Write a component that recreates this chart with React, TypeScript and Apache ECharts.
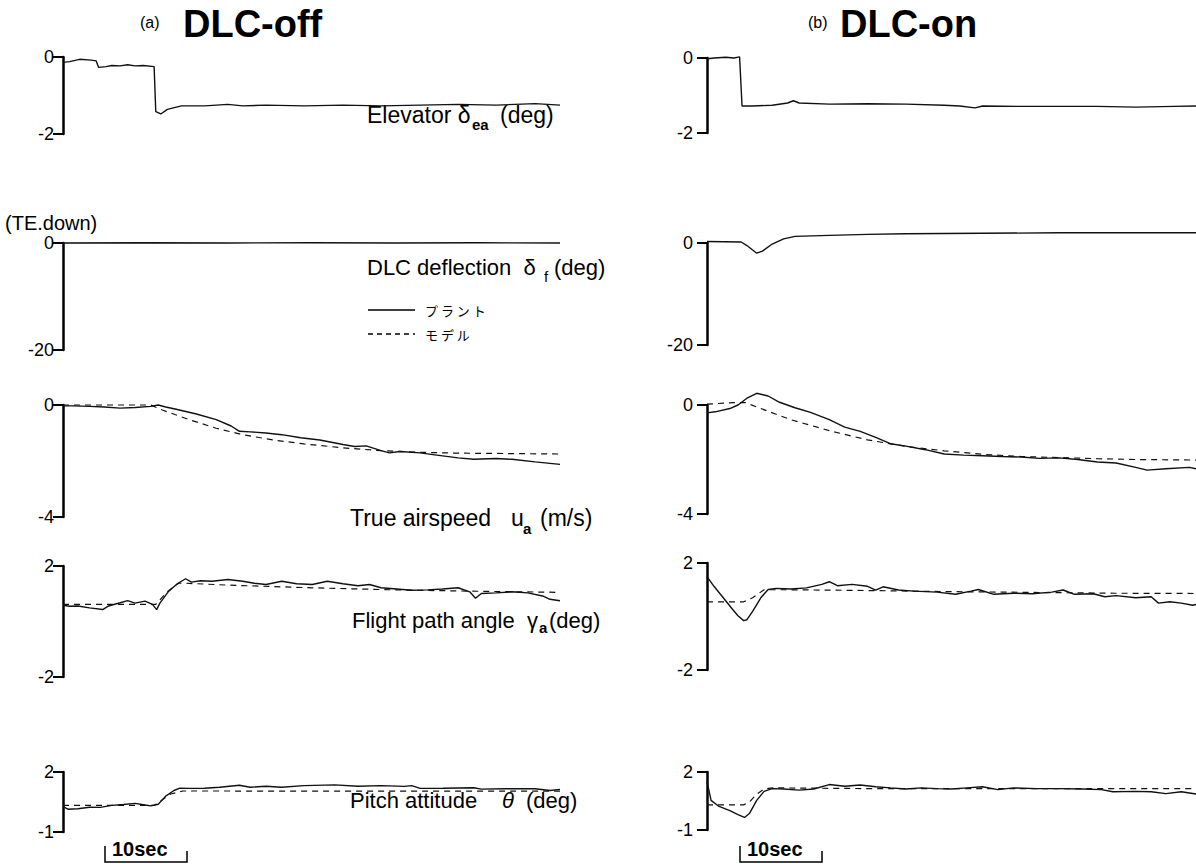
import React, { useEffect, useRef } from 'react';
import * as echarts from 'echarts';

// ---------- data: [time (s), value] ----------
const elevOffPlant = [[0,-0.14],[0.8,-0.12],[2.0,-0.06],[3.4,-0.08],[4.0,-0.1],[4.3,-0.27],[5.2,-0.25],[5.9,-0.22],[6.9,-0.23],[7.8,-0.2],[8.7,-0.23],[9.7,-0.22],[11.0,-0.25],[11.2,-1.42],[11.8,-1.48],[12.6,-1.36],[14.3,-1.27],[17.1,-1.27],[19.9,-1.23],[21.7,-1.27],[24.5,-1.25],[29.1,-1.27],[33.8,-1.25],[38.4,-1.27],[43.1,-1.25],[47.7,-1.23],[52.3,-1.25],[57.0,-1.21],[60,-1.25]];
const elevOnPlant = [[0,-0.02],[0.9,0],[2.3,0.02],[3.3,0],[4.0,0.03],[4.3,-1.28],[5.6,-1.28],[8.0,-1.26],[9.9,-1.2],[10.6,-1.14],[11.3,-1.2],[15,-1.23],[19.7,-1.22],[24.4,-1.23],[29.1,-1.26],[31,-1.28],[32.9,-1.33],[33.8,-1.28],[38.5,-1.29],[43.2,-1.29],[47.9,-1.29],[52.6,-1.31],[57.3,-1.29],[60,-1.28]];
const dlcOffPlant = [[0,0],[10,0.05],[20,0],[30,0.05],[40,0],[50,0.05],[60,0]];
const dlcOnPlant = [[0,0.3],[4.2,0.2],[4.9,-0.5],[6.1,-2.0],[6.8,-1.6],[8.0,-0.2],[9.4,0.8],[10.8,1.3],[15,1.5],[19.7,1.7],[24.4,1.8],[33.8,1.9],[43.2,2.0],[52.6,2.0],[60,2.0]];

const speedOffPlant = [[0,-0.03],[1.3,-0.03],[3.2,-0.05],[5.0,-0.07],[6.9,-0.11],[8.7,-0.09],[10.6,-0.05],[11.5,0],[12.4,-0.07],[13.8,-0.16],[16.1,-0.32],[18.5,-0.52],[20.3,-0.75],[21.3,-0.94],[22.6,-0.96],[24.5,-1.0],[26.4,-1.06],[28.7,-1.17],[31.0,-1.25],[33.8,-1.41],[35.2,-1.48],[36.6,-1.46],[38.4,-1.63],[39.4,-1.71],[40.7,-1.66],[43.1,-1.71],[44.9,-1.78],[47.7,-1.89],[49.6,-1.94],[52.3,-1.91],[54.2,-1.94],[57,-2.03],[60,-2.12]];
const speedOffModel = [[0,0],[10.6,0],[12,-0.18],[15.2,-0.52],[18.5,-0.83],[21.7,-1.06],[25.4,-1.25],[29.1,-1.39],[33.8,-1.53],[38.4,-1.63],[43.1,-1.69],[47.7,-1.72],[52.3,-1.73],[60,-1.75]];
const speedOnPlant = [[0,-0.29],[1,-0.25],[2.8,-0.13],[3.8,0],[4.9,0.25],[6.1,0.43],[7.5,0.33],[8.9,0.1],[10.8,-0.1],[12.7,-0.27],[15,-0.54],[16.9,-0.81],[18.8,-0.97],[20.7,-1.19],[22.5,-1.42],[24.4,-1.51],[26.8,-1.64],[29.1,-1.8],[31.5,-1.84],[33.8,-1.86],[36.2,-1.89],[38.5,-1.91],[40.8,-1.96],[43.2,-1.94],[45.5,-2.0],[47.9,-2.09],[50.2,-2.13],[52.6,-2.29],[54,-2.39],[56.3,-2.34],[59.2,-2.29],[60,-2.34]];
const speedOnModel = [[0,0.03],[3.3,0.09],[4.7,0.09],[6.6,-0.13],[10.3,-0.54],[15,-0.94],[19.7,-1.28],[24.4,-1.52],[29.1,-1.68],[33.8,-1.81],[38.5,-1.89],[43.2,-1.93],[47.9,-1.97],[52.6,-2.0],[60,-2.02]];

const gammaOffPlant = [[0,0.585],[0.8,0.55],[1.8,0.56],[3.2,0.49],[4.8,0.43],[5.5,0.56],[6.9,0.675],[7.8,0.75],[8.7,0.66],[9.9,0.735],[10.8,0.615],[11.3,0.43],[11.7,0.66],[12.7,1.07],[13.8,1.36],[14.8,1.54],[15.5,1.42],[16.6,1.47],[18,1.45],[19.9,1.515],[21.7,1.45],[23.1,1.38],[24.5,1.335],[26.4,1.45],[28.2,1.36],[30.1,1.335],[31.9,1.45],[33.8,1.36],[35.6,1.29],[37,1.335],[38.4,1.215],[40.3,1.17],[42.1,1.125],[44,1.14],[45.8,1.17],[47.7,1.215],[49.1,1.07],[49.8,0.84],[50.5,1.01],[52.3,1.03],[54.2,1.07],[56.1,1.03],[57.9,0.92],[58.8,0.8],[60,0.75]];
const gammaOffModel = [[0,0.615],[11.2,0.615],[12.5,1.05],[14,1.39],[20,1.31],[30,1.215],[40,1.14],[50,1.09],[60,1.05]];
const gammaOnPlant = [[0,1.49],[0.9,1.11],[1.9,0.74],[3.1,0.28],[3.8,0.03],[4.5,-0.155],[4.9,-0.12],[5.6,0.195],[6.6,0.7],[7.5,1.01],[8.5,1.05],[10.3,1.03],[12.2,1.07],[14.1,1.2],[15,1.3],[16,1.15],[17.8,1.2],[19.7,1.13],[20.7,0.99],[21.6,1.11],[23.5,0.99],[25.4,0.95],[28.2,0.91],[30.5,0.83],[32.4,0.95],[33.3,1.01],[35.2,0.83],[37.6,0.87],[39.9,0.85],[42.3,0.91],[43.7,0.99],[45.1,0.83],[47.4,0.85],[48.8,0.74],[50.2,0.78],[52.6,0.7],[54.5,0.74],[55.4,0.5],[56.8,0.55],[58.2,0.5],[59.6,0.42],[60,0.45]];
const gammaOnModel = [[0,0.55],[4.5,0.55],[5.6,0.7],[7,1.0],[10,1.0],[20,0.97],[30,0.93],[40,0.9],[50,0.87],[60,0.86]];

const thetaOffPlant = [[0,0.27],[0.6,0.14],[1.8,0.165],[3.2,0.24],[4.5,0.23],[5.9,0.33],[7.3,0.375],[8.7,0.43],[9.9,0.35],[10.6,0.305],[11.5,0.39],[12.4,0.795],[13.4,1.075],[14.1,1.19],[15.2,1.18],[17.1,1.19],[18.9,1.24],[21.3,1.34],[22.6,1.24],[24.5,1.29],[26.4,1.24],[29.1,1.32],[32.8,1.355],[35.6,1.29],[38.4,1.32],[41.2,1.28],[42.1,1.32],[43.1,1.18],[45.9,1.19],[49.6,1.215],[50.5,1.145],[53.3,1.16],[57,1.16],[58.8,1.075],[60,1.13]];
const thetaOffModel = [[0,0.33],[11,0.33],[13,0.9],[14.5,1.05],[60,1.04]];
const thetaOnPlant = [[0,1.5],[0.5,0.53],[1.4,0.24],[2.8,0.0],[3.8,-0.2],[4.6,-0.35],[5.2,-0.15],[6.1,0.53],[7,1.0],[8,1.14],[9.4,1.12],[11.3,1.06],[13.1,1.12],[15,1.35],[16.9,1.26],[18.8,1.33],[20.7,1.24],[22.5,1.18],[24.4,1.12],[26.3,1.18],[28.2,1.14],[30,1.12],[31.9,1.18],[33.8,1.24],[35.7,1.09],[37.6,1.18],[40.4,1.14],[43.2,1.14],[46,1.12],[48.4,1.09],[49.8,0.98],[52.6,1.0],[54.5,0.98],[56.3,0.88],[58.2,0.98],[60,0.86]];
const thetaOnModel = [[0,0.3],[4.5,0.3],[5.2,0.45],[6.1,0.85],[7,1.12],[8,1.18],[20,1.14],[40,1.14],[60,1.14]];

// axis ranges (tick values at both ends)
const rangeElev = [-2, 0];
const rangeDlc = [-20, 0];
const rangeSpeed = [-4, 0];
const rangeGamma = [-2, 2];
const rangeTheta = [-1, 2];

// ---------- layout ----------
const LEFT_COL = { left: 63, width: 497, offset: 6 };
const RIGHT_COL = { left: 707, width: 489, offset: 11 };

const panels = [
  { col: LEFT_COL, top: 57, bottom: 134, range: rangeElev, plant: elevOffPlant, model: null },
  { col: LEFT_COL, top: 243, bottom: 350, range: rangeDlc, plant: dlcOffPlant, model: null },
  { col: LEFT_COL, top: 405, bottom: 517, range: rangeSpeed, plant: speedOffPlant, model: speedOffModel },
  { col: LEFT_COL, top: 566, bottom: 677, range: rangeGamma, plant: gammaOffPlant, model: gammaOffModel },
  { col: LEFT_COL, top: 772, bottom: 832, range: rangeTheta, plant: thetaOffPlant, model: thetaOffModel },
  { col: RIGHT_COL, top: 58, bottom: 133, range: rangeElev, plant: elevOnPlant, model: null },
  { col: RIGHT_COL, top: 243, bottom: 345, range: rangeDlc, plant: dlcOnPlant, model: null },
  { col: RIGHT_COL, top: 405, bottom: 514, range: rangeSpeed, plant: speedOnPlant, model: speedOnModel },
  { col: RIGHT_COL, top: 563, bottom: 670, range: rangeGamma, plant: gammaOnPlant, model: gammaOnModel },
  { col: RIGHT_COL, top: 772, bottom: 830, range: rangeTheta, plant: thetaOnPlant, model: thetaOnModel },
];

const FONT = 'Liberation Sans, Arial, sans-serif';
const JP = 'Noto Sans CJK JP, sans-serif';

function txt(text: string, x: number, y: number, size: number, extra: any = {}) {
  return {
    type: 'text', x, y, silent: true,
    style: { text, fill: '#000', fontSize: size, fontFamily: FONT, verticalAlign: 'middle', ...extra },
  };
}

function buildOption() {
  const grid: any[] = [];
  const xAxis: any[] = [];
  const yAxis: any[] = [];
  const series: any[] = [];
  panels.forEach((p, i) => {
    grid.push({ left: p.col.left, top: p.top, width: p.col.width, height: p.bottom - p.top });
    xAxis.push({ gridIndex: i, type: 'value', min: 0, max: 60, show: false });
    yAxis.push({
      gridIndex: i, type: 'value', min: p.range[0], max: p.range[1], offset: p.col.offset,
      axisLine: { show: true, lineStyle: { color: '#000', width: 2.5 } },
      axisTick: { show: true, inside: false, length: 10, lineStyle: { color: '#000', width: 2 }, customValues: p.range },
      axisLabel: { show: true, customValues: p.range, color: '#000', fontSize: 18, fontFamily: FONT, margin: 3 },
      splitLine: { show: false },
    });
    series.push({
      type: 'line', xAxisIndex: i, yAxisIndex: i, data: p.plant, showSymbol: false, clip: false,
      lineStyle: { color: '#111', width: 1.4 }, silent: true,
    });
    if (p.model) {
      series.push({
        type: 'line', xAxisIndex: i, yAxisIndex: i, data: p.model, showSymbol: false, clip: false,
        lineStyle: { color: '#111', width: 1.2, type: [6, 5] }, silent: true,
      });
    }
  });

  const graphic: any[] = [
    txt('(a)', 140, 22, 16),
    txt('DLC-off', 183, 24, 38, { fontWeight: 'bold' }),
    txt('(b)', 808, 22, 16),
    txt('DLC-on', 840, 24, 38, { fontWeight: 'bold' }),
    // panel titles
    txt('Elevator δ', 367, 115, 23),
    txt('ea', 472, 124, 15, { fontWeight: 'bold' }),
    txt('(deg)', 500, 115, 23),
    txt('(TE.down)', 5, 223, 20),
    txt('DLC deflection  δ', 367, 267, 22),
    txt('f', 544, 276, 15),
    txt('(deg)', 554, 267, 22),
    txt('True airspeed', 350, 518, 23),
    txt('u', 511, 518, 23),
    txt('a', 523, 528, 15, { fontWeight: 'bold' }),
    txt('(m/s)', 540, 518, 23),
    txt('Flight path angle  γ', 352, 620, 22),
    txt('a', 539, 627, 15, { fontWeight: 'bold' }),
    txt('(deg)', 549, 620, 22),
    txt('Pitch attitude  ', 350, 800, 22),
    txt('θ', 502, 800, 22, { fontStyle: 'italic' }),
    txt('(deg)', 526, 800, 22),
    // legend
    { type: 'line', shape: { x1: 368, y1: 310, x2: 415, y2: 310 }, style: { stroke: '#000', lineWidth: 1.3 } },
    { type: 'text', x: 425, y: 310, style: { text: 'プ ラ ン ト', fontSize: 13, fontFamily: JP, fill: '#000', verticalAlign: 'middle' } },
    { type: 'line', shape: { x1: 368, y1: 334, x2: 415, y2: 334 }, style: { stroke: '#000', lineWidth: 1.3, lineDash: [5, 4] } },
    { type: 'text', x: 425, y: 334, style: { text: 'モ デ ル', fontSize: 13, fontFamily: JP, fill: '#000', verticalAlign: 'middle' } },
    // 10 sec scale bars
    { type: 'polyline', shape: { points: [[105, 846], [105, 862], [187, 862], [187, 851]] }, style: { stroke: '#000', lineWidth: 1.5, fill: null } },
    txt('10sec', 112, 849, 20, { fontWeight: 'bold' }),
    { type: 'polyline', shape: { points: [[740, 846], [740, 862], [822, 862], [822, 851]] }, style: { stroke: '#000', lineWidth: 1.5, fill: null } },
    txt('10sec', 747, 849, 20, { fontWeight: 'bold' }),
  ];

  return {
    animation: false,
    backgroundColor: '#fff',
    textStyle: { fontFamily: FONT },
    grid, xAxis, yAxis, series, graphic,
  };
}

export default function App() {
  const ref = useRef<HTMLDivElement>(null);
  useEffect(() => {
    if (!ref.current) return;
    const chart = echarts.init(ref.current, null, { renderer: 'svg' });
    chart.setOption(buildOption());
    return () => chart.dispose();
  }, []);
  return (
    <div
      ref={ref}
      style={{ position: 'fixed', left: 0, top: 0, width: 1196, height: 864, background: '#fff' }}
    />
  );
}
